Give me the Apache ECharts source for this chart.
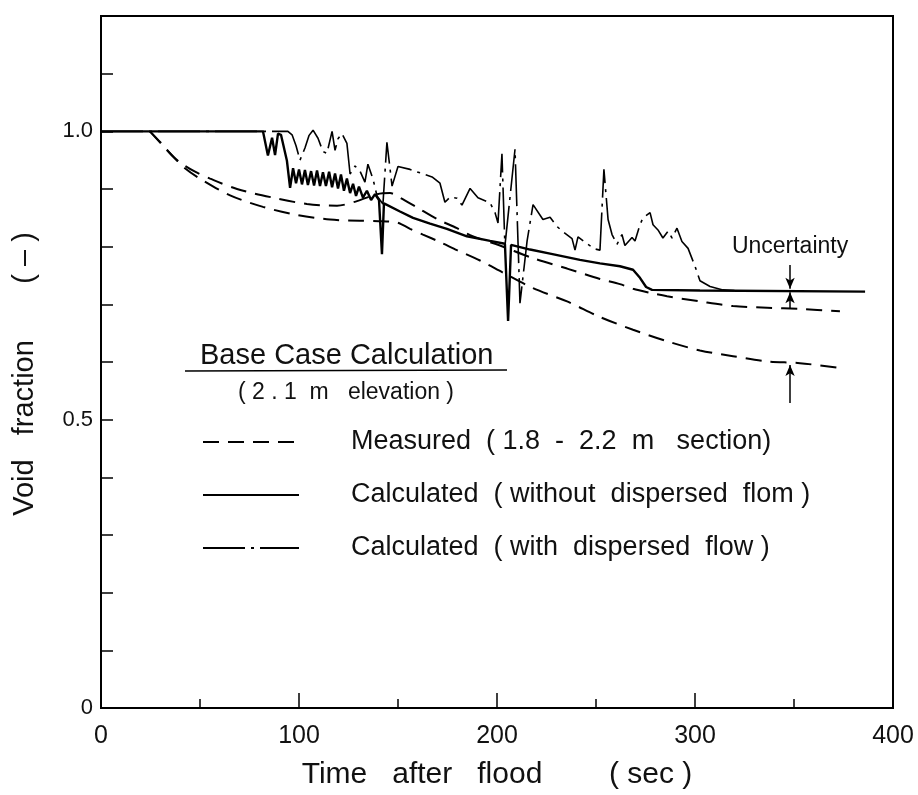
<!DOCTYPE html>
<html>
<head>
<meta charset="utf-8">
<script src="https://cdn.jsdelivr.net/npm/echarts@6/dist/echarts.min.js"></script>
<style>
  html, body { margin: 0; padding: 0; background: #fff; }
  #chart { width: 918px; height: 795px; }
</style>
</head>
<body>
<div id="chart"></div>
<script>
// Void fraction at 2.1 m elevation after flood start (base case)

// Measured band, upper bound (time s, void fraction)
const measHighT = [24.7,30.8,35.9,39.9,47.5,55.1,68.7,86.9,104.0,119.2,129.3,139.4,146.0,151.0,159.6,169.7,179.8,186.4,201.5,218.2,235.4,252.0,262.1,268.7,277.3,285.9,302.5,319.2,336.4,353.0,373.2];
const measHighV = [1.000,0.978,0.958,0.946,0.930,0.918,0.900,0.885,0.874,0.871,0.879,0.891,0.893,0.885,0.868,0.848,0.832,0.820,0.802,0.780,0.762,0.744,0.735,0.727,0.720,0.714,0.705,0.697,0.694,0.692,0.688];

// Measured band, lower bound
const measLowT = [24.7,35.9,42.4,50.0,65.2,81.8,99.0,115.7,130.8,142.4,149.5,156.1,162.6,171.2,179.8,191.4,203.0,218.2,235.4,252.0,268.7,285.9,302.5,319.2,336.4,353.0,374.7];
const measLowV = [1.000,0.958,0.936,0.918,0.889,0.869,0.855,0.847,0.845,0.844,0.842,0.831,0.821,0.808,0.794,0.776,0.755,0.728,0.705,0.678,0.656,0.636,0.620,0.610,0.601,0.598,0.589];

// Calculated, without dispersed flow
const noDispT = [0,81.8,84.3,86.4,87.9,89.4,90.9,93.9,95.5,
  97.0,98.5,100.0,101.5,103.0,104.5,106.1,107.6,109.1,110.6,112.1,113.6,115.2,116.7,118.2,119.7,121.2,122.7,124.2,125.8,127.3,128.8,130.3,132.3,134.3,136.4,138.4,140.4,
  141.9,142.9,151.0,157.6,166.2,174.7,184.8,196.5,204.0,205.6,207.1,216.7,226.8,241.9,252.0,262.1,268.7,272.2,275.3,278.3,302.5,385.9];
const noDispV = [1.0,1.0,0.958,0.989,0.959,0.996,0.994,0.949,0.902,
  0.936,0.910,0.934,0.908,0.933,0.907,0.931,0.906,0.932,0.905,0.929,0.905,0.930,0.903,0.927,0.901,0.925,0.897,0.918,0.893,0.909,0.888,0.904,0.885,0.897,0.881,0.891,0.881,
  0.787,0.875,0.861,0.850,0.840,0.831,0.818,0.810,0.805,0.671,0.803,0.795,0.788,0.777,0.771,0.766,0.760,0.746,0.730,0.725,0.724,0.722];

// Calculated, with dispersed flow
const dispT = [0,94.4,96.5,98.5,100.5,103.0,105.1,107.1,109.6,112.1,114.1,116.7,118.2,119.7,121.7,124.2,125.8,128.3,130.8,133.3,134.8,137.4,139.4,142.4,144.4,147.0,150.0,156.1,161.1,167.2,171.2,173.7,176.3,179.8,182.3,186.4,190.4,196.5,199.0,200.5,202.5,204.0,209.1,211.6,215.2,218.2,223.2,226.8,230.3,233.3,237.9,239.4,240.9,245.5,249.5,252.0,254.0,256.1,258.1,260.6,263.1,264.6,268.2,269.7,272.2,273.7,277.3,278.8,281.3,283.8,286.4,288.4,290.9,293.4,296.5,300.0,302.5,307.6,314.1,325.3];
const dispV = [1.0,1.0,0.994,0.975,0.950,0.971,0.993,1.002,0.988,0.965,0.962,1.000,0.967,0.987,0.996,0.979,0.926,0.940,0.931,0.912,0.943,0.917,0.888,0.874,0.981,0.905,0.939,0.934,0.928,0.921,0.910,0.877,0.886,0.884,0.872,0.901,0.885,0.876,0.859,0.841,0.961,0.801,0.969,0.702,0.810,0.873,0.847,0.851,0.835,0.826,0.814,0.794,0.817,0.805,0.796,0.794,0.934,0.847,0.821,0.804,0.821,0.802,0.816,0.810,0.838,0.850,0.859,0.838,0.829,0.815,0.827,0.815,0.832,0.809,0.797,0.766,0.741,0.731,0.725,0.723];

// Uncertainty markers at t = 348 s: [from, to] in void fraction
const uncertaintyTime = 348;
const uncertaintyArrows = [[0.768, 0.727], [0.692, 0.721], [0.529, 0.595]];
const uncertaintyLabelV = 0.80;

// Axis tick labels
const xTickLabels = ['0', '100', '200', '300', '400'];
const yLabelled = { '0': '0', '0.5': '0.5', '1': '1.0' };

const nameMeasured = 'Measured  ( 1.8  -  2.2  m   section)';
const nameNoDisp = 'Calculated  ( without  dispersed  flom )';
const nameDisp = 'Calculated  ( with  dispersed  flow )';

const FONT = 'Liberation Sans';
const INK = '#111';

const zip = (t, v) => t.map((x, i) => [x, v[i]]);

const chart = echarts.init(document.getElementById('chart'), null, { renderer: 'canvas' });

chart.setOption({
  animation: false,
  backgroundColor: '#fff',
  textStyle: { fontFamily: FONT, color: INK },
  title: [
    { text: 'Base Case Calculation', left: 200, top: 341, padding: 0,
      textStyle: { fontFamily: FONT, fontSize: 29, fontWeight: 'normal', color: INK } },
    { text: '( 2 . 1  m   elevation )', left: 238, top: 381, padding: 0,
      textStyle: { fontFamily: FONT, fontSize: 23, fontWeight: 'normal', color: INK } }
  ],
  graphic: [
    { type: 'line', shape: { x1: 185, y1: 371, x2: 507, y2: 370 },
      style: { stroke: '#000', lineWidth: 1.6 } }
  ],
  legend: {
    orient: 'vertical',
    left: 202,
    top: 427,
    itemWidth: 96,
    itemHeight: 14,
    itemGap: 23,
    padding: 0,
    selectedMode: false,
    itemStyle: { opacity: 0 },
    textStyle: { fontFamily: FONT, fontSize: 27, color: INK, lineHeight: 30, padding: [0, 0, 0, 47] },
    data: [nameMeasured, nameNoDisp, nameDisp]
  },
  grid: {
    left: 101, right: 25, top: 16, bottom: 87,
    show: true, borderColor: '#000', borderWidth: 2, backgroundColor: 'transparent'
  },
  xAxis: {
    type: 'value',
    min: 0, max: 400, interval: 100,
    name: 'Time   after   flood        ( sec )',
    nameLocation: 'middle',
    nameGap: 52,
    nameTextStyle: { fontFamily: FONT, fontSize: 30, color: INK },
    axisLine: { show: true, lineStyle: { color: '#000', width: 2 } },
    axisTick: { show: true, inside: true, length: 15, lineStyle: { color: '#000', width: 1.5 } },
    minorTick: { show: true, splitNumber: 2, length: 9, lineStyle: { color: '#000', width: 1.5 } },
    splitLine: { show: false },
    axisLabel: {
      margin: 16, fontFamily: FONT, fontSize: 25, color: INK,
      formatter: v => xTickLabels[Math.round(v / 100)]
    }
  },
  yAxis: {
    type: 'value',
    min: 0, max: 1.2, interval: 0.1,
    name: 'Void   fraction       ( – )',
    nameLocation: 'middle',
    nameGap: 62,
    nameTextStyle: { fontFamily: FONT, fontSize: 29, color: INK, padding: [0, 24, 0, 0] },
    axisLine: { show: true, lineStyle: { color: '#000', width: 2 } },
    axisTick: { show: true, inside: true, length: 12, lineStyle: { color: '#000', width: 1.5 } },
    splitLine: { show: false },
    axisLabel: {
      margin: 8, fontFamily: FONT, fontSize: 22, color: INK,
      formatter: v => {
        const k = String(Math.round(v * 10) / 10);
        return yLabelled[k] !== undefined ? yLabelled[k] : '';
      }
    }
  },
  series: [
    {
      name: nameMeasured, type: 'line', symbol: 'none', smooth: 0.3,
      data: zip(measHighT, measHighV),
      lineStyle: { color: '#000', width: 2, type: [16, 9] },
      markLine: {
        silent: true,
        symbol: ['none', 'arrow'],
        symbolSize: [7, 11],
        label: { show: false },
        lineStyle: { color: '#000', width: 1.5, type: 'solid' },
        data: uncertaintyArrows.map(([a, b]) => [
          { coord: [uncertaintyTime, a] },
          { coord: [uncertaintyTime, b] }
        ])
      },
      markPoint: {
        silent: true,
        symbol: 'circle', symbolSize: 0,
        label: { show: true, position: 'inside', formatter: 'Uncertainty',
          fontFamily: FONT, fontSize: 23, color: INK },
        data: [{ coord: [uncertaintyTime, uncertaintyLabelV] }]
      }
    },
    {
      name: nameMeasured, type: 'line', symbol: 'none', smooth: 0.3,
      data: zip(measLowT, measLowV),
      lineStyle: { color: '#000', width: 2, type: [16, 9] }
    },
    {
      name: nameNoDisp, type: 'line', symbol: 'none',
      data: zip(noDispT, noDispV),
      lineStyle: { color: '#000', width: 2.4, type: 'solid' }
    },
    {
      name: nameDisp, type: 'line', symbol: 'none',
      data: zip(dispT, dispV),
      lineStyle: { color: '#000', width: 1.6, type: [42, 6, 3, 6] }
    }
  ]
});
</script>
</body>
</html>
